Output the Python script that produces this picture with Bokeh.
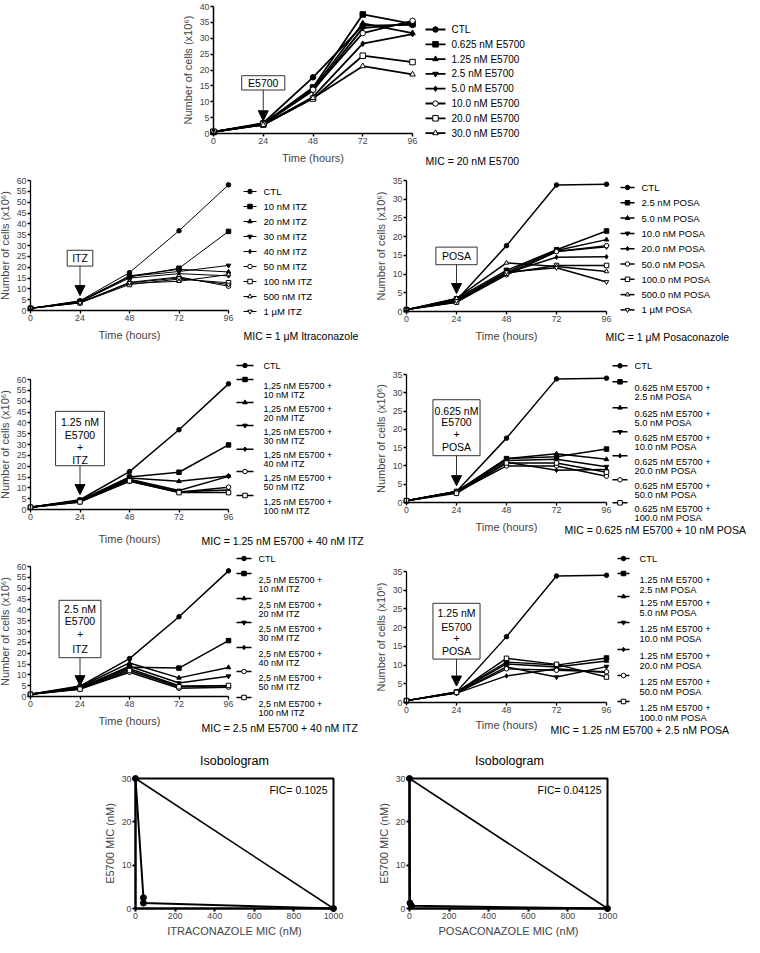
from bokeh.plotting import figure
from bokeh.layouts import column, row
from bokeh.models import Range1d, FixedTicker, Arrow, NormalHead
from bokeh.core.properties import value
from bokeh.embed import file_html
from bokeh.resources import INLINE

FONT = "Liberation Sans"

# ---------------- data ----------------
time_h = [0, 24, 48, 72, 96]

# Panel A: E5700 alone
a_labels = ["CTL", "0.625 nM E5700", "1.25 nM E5700", "2.5 nM E5700", "5.0 nM E5700",
            "10.0 nM E5700", "20.0 nM E5700", "30.0 nM E5700"]
a_ctl = [0.5, 3.3, 17.7, 34.0, 34.2]
a_0625 = [0.5, 3.1, 14.5, 37.5, 34.5]
a_125 = [0.5, 3.0, 14.0, 34.7, 31.6]
a_25 = [0.5, 3.0, 13.5, 33.2, 34.6]
a_5 = [0.5, 2.8, 11.5, 28.3, 31.3]
a_10 = [0.5, 3.0, 13.8, 31.6, 35.5]
a_20 = [0.5, 2.8, 11.0, 24.5, 22.5]
a_30 = [0.5, 2.7, 11.2, 21.2, 18.6]

# Panel B: ITZ alone
b_labels = ["CTL", "10 nM ITZ", "20 nM ITZ", "30 nM ITZ", "40 nM ITZ", "50 nM ITZ",
            "100 nM ITZ", "500 nM ITZ", "1 \u00b5M ITZ"]
b_ctl = [1.0, 4.5, 17.5, 36.8, 58.0]
b_10 = [1.0, 4.2, 15.5, 19.5, 36.5]
b_20 = [1.0, 4.3, 16.0, 19.0, 17.8]
b_30 = [1.0, 4.0, 15.8, 18.0, 20.8]
b_40 = [1.0, 4.0, 15.0, 17.0, 16.0]
b_50 = [1.0, 3.6, 13.0, 15.5, 11.2]
b_100 = [1.0, 3.5, 12.0, 14.5, 12.8]
b_500 = [1.0, 3.8, 12.5, 13.5, 16.6]
b_1000 = [1.0, 3.5, 12.8, 15.0, 12.0]

# Panel C: POSA alone
c_labels = ["CTL", "2.5 nM POSA", "5.0 nM POSA", "10.0 nM POSA", "20.0 nM POSA",
            "50.0 nM POSA", "100.0 nM POSA", "500.0 nM POSA", "1 \u00b5M POSA"]
c_ctl = [0.5, 3.0, 17.6, 33.8, 34.0]
c_25 = [0.5, 3.4, 11.0, 16.5, 21.5]
c_5 = [0.5, 3.0, 10.5, 16.3, 19.2]
c_10 = [0.5, 3.0, 10.0, 16.0, 17.3]
c_20 = [0.5, 2.8, 10.3, 14.5, 14.6]
c_50 = [0.5, 2.5, 9.8, 16.0, 17.6]
c_100 = [0.5, 2.5, 10.2, 12.3, 12.3]
c_500 = [0.5, 3.5, 13.0, 12.0, 10.7]
c_1000 = [0.5, 2.8, 10.5, 11.7, 7.9]

# Panel D: 1.25 nM E5700 + ITZ
d_labels = ["CTL", "1,25 nM E5700 +\n10 nM ITZ", "1,25 nM E5700 +\n20 nM ITZ",
            "1,25 nM E5700 +\n30 nM ITZ", "1,25 nM E5700 +\n40 nM ITZ",
            "1,25 nM E5700 +\n50 nM ITZ", "1,25 nM E5700 +\n100 nM ITZ"]
d_ctl = [1.0, 4.5, 17.5, 36.8, 58.0]
d_10 = [1.0, 4.2, 15.0, 17.2, 29.8]
d_20 = [1.0, 4.0, 14.5, 13.0, 15.5]
d_30 = [1.0, 4.0, 14.0, 8.8, 15.3]
d_40 = [1.0, 3.8, 13.5, 8.2, 9.0]
d_50 = [1.0, 3.5, 13.0, 8.0, 10.3]
d_100 = [1.0, 3.5, 13.2, 7.8, 7.8]

# Panel E: 0.625 nM E5700 + POSA
e_labels = ["CTL", "0.625 nM E5700 +\n2.5 nM POSA", "0.625 nM E5700 +\n5.0 nM POSA",
            "0.625 nM E5700 +\n10.0 nM POSA", "0.625 nM E5700 +\n20.0 nM POSA",
            "0.625 nM E5700 +\n50.0 nM POSA", "0.625 nM E5700 +\n100.0 nM POSA"]
e_ctl = [0.5, 3.0, 17.6, 33.8, 34.0]
e_25 = [0.5, 3.0, 12.0, 12.5, 14.6]
e_5 = [0.5, 3.0, 12.0, 13.3, 11.8]
e_10 = [0.5, 3.0, 11.5, 11.8, 9.8]
e_20 = [0.5, 2.8, 11.0, 8.8, 9.0]
e_50 = [0.5, 2.8, 10.0, 10.0, 7.2]
e_100 = [0.5, 2.5, 10.8, 10.8, 8.3]

# Panel F: 2.5 nM E5700 + ITZ
f_labels = ["CTL", "2,5 nM E5700 +\n10 nM ITZ", "2,5 nM E5700 +\n20 nM ITZ",
            "2,5 nM E5700 +\n30 nM ITZ", "2,5 nM E5700 +\n40 nM ITZ",
            "2,5 nM E5700 +\n50 nM ITZ", "2,5 nM E5700 +\n100 nM ITZ"]
f_ctl = [1.0, 4.8, 17.5, 36.8, 58.0]
f_10 = [1.0, 4.2, 13.5, 13.1, 25.8]
f_20 = [1.0, 4.5, 15.5, 8.6, 13.4]
f_30 = [1.0, 4.0, 14.0, 6.2, 9.4]
f_40 = [1.0, 3.8, 12.8, 5.0, 4.8]
f_50 = [1.0, 3.5, 11.2, 3.8, 4.3]
f_100 = [1.0, 3.4, 12.0, 4.5, 5.1]

# Panel G: 1.25 nM E5700 + POSA
g_labels = ["CTL", "1.25 nM E5700 +\n2.5 nM POSA", "1.25 nM E5700 +\n5.0 nM POSA",
            "1.25 nM E5700 +\n10.0 nM POSA", "1.25 nM E5700 +\n20.0 nM POSA",
            "1.25 nM E5700 +\n50.0 nM POSA", "1.25 nM E5700 +\n100.0 nM POSA"]
g_ctl = [0.5, 2.8, 17.6, 33.8, 34.0]
g_25 = [0.5, 2.8, 10.8, 10.0, 11.9]
g_5 = [0.5, 2.7, 10.3, 9.5, 11.1]
g_10 = [0.5, 2.6, 9.5, 6.8, 9.6]
g_20 = [0.5, 2.5, 7.1, 9.0, 8.0]
g_50 = [0.5, 2.6, 9.0, 8.6, 8.2]
g_100 = [0.5, 2.7, 11.8, 10.2, 6.8]

# Isobolograms
itz_mic_x = [0, 40, 40, 1000]
itz_e5700_y = [30, 2.5, 1.25, 0]
posa_mic_x = [0, 2.5, 10, 1000]
posa_e5700_y = [30, 1.25, 0.625, 0]
additive_x = [0, 1000]
additive_y = [30, 0]

MARKERS = [("circle", "black"), ("square", "black"), ("triangle", "black"),
           ("inverted_triangle", "black"), ("diamond", "black"), ("circle", "white"),
           ("square", "white"), ("triangle", "white"), ("inverted_triangle", "white")]

YLAB = "Number of cells (x10\u2076)"


def make_panel(W, H, x0, x1, xmax, y0, y1, ymax, xticks, yticks, xlabel, ylabel,
               xstand=5, axw=1.3):
    sx = (x1 - x0) / xmax
    sy = (y0 - y1) / ymax
    p = figure(width=W, height=H, x_range=Range1d(-x0 / sx, (W - x0) / sx),
               y_range=Range1d(-(H - y0) / sy, y0 / sy), output_backend="svg",
               toolbar_location=None, min_border=0)
    p.outline_line_color = None
    p.grid.visible = False
    p.xaxis.fixed_location = 0
    p.yaxis.fixed_location = 0
    for ax, ticks, lab, mx in ((p.xaxis[0], xticks, xlabel, xmax),
                               (p.yaxis[0], yticks, ylabel, ymax)):
        ax.ticker = FixedTicker(ticks=ticks)
        ax.bounds = (0, mx)
        ax.axis_label = lab
        ax.axis_label_text_font = FONT
        ax.axis_label_text_font_size = "11px"
        ax.axis_label_text_font_style = "normal"
        ax.axis_label_standoff = 3
        ax.major_label_text_font = FONT
        ax.major_label_text_font_size = "8.8px"
        ax.major_label_standoff = 1
        ax.major_tick_out = 3
        ax.major_tick_in = 0
        ax.minor_tick_out = 0
        ax.minor_tick_in = 0
        ax.axis_line_width = axw
        ax.major_tick_line_width = axw
    p.xaxis[0].axis_label_standoff = xstand

    def X(px):
        return (px - x0) / sx

    def Y(py):
        return (y0 - py) / sy
    return p, X, Y


def txt(p, xs, ys, texts, size, align="left"):
    p.text(x=xs, y=ys, text=texts, text_font=value(FONT), text_font_size=value(size),
           text_align=align, text_baseline="middle", text_color="black")


def series_plot(p, series, lw, ms):
    for vals in series:
        p.line(time_h, vals, line_color="black", line_width=lw)
    for vals, (m, f) in zip(series, MARKERS):
        p.scatter(time_h, vals, marker=m, size=ms, fill_color=f, line_color="black",
                  line_width=1)


def legend(p, X, Y, labels, xa, xb, xt, ys, fs, lw, ms, d1=6, d2=15):
    tx, ty, tt = [], [], []
    for lab, (m, f), yy in zip(labels, MARKERS, ys):
        p.segment(x0=[X(xa)], y0=[Y(yy)], x1=[X(xb)], y1=[Y(yy)], line_color="black",
                  line_width=lw)
        p.scatter(x=[X((xa + xb) / 2)], y=[Y(yy)], marker=m, size=ms, fill_color=f,
                  line_color="black", line_width=1)
        parts = lab.split("\n")
        offs = [0] if len(parts) == 1 else [d1, d2]
        for part, o in zip(parts, offs):
            tx.append(X(xt))
            ty.append(Y(yy + o))
            tt.append(part)
    txt(p, tx, ty, tt, fs)


def callout(p, lines, half_w, bottom, top, line_ys, tip):
    xc = time_h[1]
    p.quad(left=[xc - half_w], right=[xc + half_w], bottom=[bottom], top=[top],
           fill_color="white", line_color="#333333", line_width=1)
    txt(p, [xc] * len(lines), line_ys, lines, "10.5px", align="center")
    p.add_layout(Arrow(x_start=xc, y_start=bottom, x_end=xc, y_end=tip, line_width=1,
                       line_color="#333333",
                       end=NormalHead(size=10, fill_color="black", line_color="black")))


XT = [0, 24, 48, 72, 96]
Y40 = list(range(0, 41, 5))
Y60 = list(range(0, 61, 5))
Y35 = list(range(0, 36, 5))
TL = "Time (hours)"

# ---- Panel A ----
pA, X, Y = make_panel(752, 167, 213, 412, 96, 133, 6, 40, XT, Y40, TL, YLAB, axw=1.5)
series_plot(pA, [a_ctl, a_0625, a_125, a_25, a_5, a_10, a_20, a_30], 1.8, 5.5)
legend(pA, X, Y, a_labels, 425, 445, 451, [29 + i * 14.8 for i in range(8)], "10px", 1.8, 5.5)
txt(pA, [X(425)], [Y(160)], ["MIC = 20 nM E5700"], "10.5px")
callout(pA, ["E5700"], 10.4, 13.7, 18.2, [15.95], 4.0)

# ---- Panel B ----
pB, X, Y = make_panel(370, 185, 30, 228, 96, 143, 13, 60, XT, Y60, TL, YLAB)
series_plot(pB, [b_ctl, b_10, b_20, b_30, b_40, b_50, b_100, b_500, b_1000], 1.0, 4.5)
legend(pB, X, Y, b_labels, 243, 256, 263, [24 + i * 15 for i in range(9)], "9.5px", 1.0, 4.5)
txt(pB, [X(243)], [Y(168)], ["MIC = 1 \u03bcM Itraconazole"], "10.5px")
callout(pB, ["ITZ"], 6.2, 20.5, 27.8, [24.15], 6.9)

# ---- Panel C ----
pC, X, Y = make_panel(382, 185, 36, 236, 96, 144, 13, 35, XT, Y35, TL, YLAB)
series_plot(pC, [c_ctl, c_25, c_5, c_10, c_20, c_50, c_100, c_500, c_1000], 1.5, 4.5)
legend(pC, X, Y, c_labels, 250, 264, 271, [20 + i * 15.3 for i in range(9)], "9.5px", 1.5, 4.5)
txt(pC, [X(235)], [Y(169)], ["MIC = 1 \u03bcM Posaconazole"], "10.5px")
callout(pC, ["POSA"], 9.9, 12.5, 17.2, [14.85], 4.8)

# ---- Panel D ----
pD, X, Y = make_panel(370, 195, 30, 228, 96, 157, 27, 60, XT, Y60, TL, YLAB, xstand=10)
series_plot(pD, [d_ctl, d_10, d_20, d_30, d_40, d_50, d_100], 1.5, 4.5)
legend(pD, X, Y, d_labels, 236, 253, 263, [13, 27, 50, 73, 96.7, 119, 143], "9px", 1.5, 4.5)
txt(pD, [X(201)], [Y(188)], ["MIC = 1.25 nM E5700 + 40 nM ITZ"], "10.5px")
callout(pD, ["1.25 nM", "E5700", "+", "ITZ"], 11.85, 20.2, 45.3, [40.3, 34.5, 28.9, 22.8], 6.9)

# ---- Panel E ----
pE, X, Y = make_panel(382, 195, 36, 236, 96, 150, 22, 35, XT, Y35, TL, YLAB)
series_plot(pE, [e_ctl, e_25, e_5, e_10, e_20, e_50, e_100], 1.5, 4.5)
legend(pE, X, Y, e_labels, 242, 257, 264, [13.3, 29.3, 55.3, 79.3, 103.3, 127.3, 150.3],
       "9.3px", 1.5, 4.5, d1=6, d2=15)
txt(pE, [X(194)], [Y(177)], ["MIC = 0.625 nM E5700 + 10 nM POSA"], "10.5px")
callout(pE, ["0.625 nM", "E5700", "+", "POSA"], 11.3, 12.8, 28.1, [25.0, 22.0, 18.8, 15.2], 4.6)

# ---- Panel F ----
pF, X, Y = make_panel(370, 187, 30, 228, 96, 149, 19, 60, XT, Y60, TL, YLAB)
series_plot(pF, [f_ctl, f_10, f_20, f_30, f_40, f_50, f_100], 1.5, 4.5)
legend(pF, X, Y, f_labels, 236, 251, 258, [11, 26, 51, 75, 100, 124, 150], "9px", 1.5, 4.5)
txt(pF, [X(201)], [Y(180)], ["MIC = 2.5 nM E5700 + 40 nM ITZ"], "10.5px")
callout(pF, ["2.5 nM", "E5700", "+", "ITZ"], 10.15, 17.9, 44.4, [40.2, 34.8, 29.0, 22.1], 5.0)

# ---- Panel G ----
pG, X, Y = make_panel(382, 187, 36, 236, 96, 155, 24, 35, XT, Y35, TL, YLAB, xstand=3)
series_plot(pG, [g_ctl, g_25, g_5, g_10, g_20, g_50, g_100], 1.4, 4.5)
legend(pG, X, Y, g_labels, 247, 259, 269, [11, 26, 49, 75, 102, 128, 154],
       "9.3px", 1.4, 4.5, d1=6.5, d2=16)
txt(pG, [X(180)], [Y(182)], ["MIC = 1.25 nM E5700 + 2.5 nM POSA"], "10.5px")
callout(pG, ["1.25 nM", "E5700", "+", "POSA"], 11.3, 11.6, 26.5, [23.9, 20.2, 17.3, 13.7], 4.4)


# ---- Isobolograms ----
def isobologram(W, x0, x1, xs, ys, xlabel, fic, title_x, fic_x):
    p, X, Y = make_panel(W, 203, x0, x1, 1000, 174, 44, 30,
                         list(range(0, 1001, 200)), [0, 10, 20, 30], xlabel,
                         "E5700 MIC (nM)", xstand=3, axw=2)
    p.quad(left=[0], right=[1000], bottom=[0], top=[30], fill_color=None,
           line_color="black", line_width=2)
    p.line(additive_x, additive_y, line_color="black", line_width=1.5)
    p.line(xs, ys, line_color="black", line_width=2)
    p.scatter(xs, ys, marker="circle", size=6, fill_color="black", line_color="black")
    txt(p, [X(title_x)], [Y(26)], ["Isobologram"], "12.5px", align="center")
    txt(p, [X(fic_x)], [Y(55)], [fic], "10.5px", align="right")
    return p


pH = isobologram(370, 135, 333, itz_mic_x, itz_e5700_y, "ITRACONAZOLE MIC (nM)",
                 "FIC= 0.1025", 234, 327)
pI = isobologram(382, 39, 237, posa_mic_x, posa_e5700_y, "POSACONAZOLE MIC (nM)",
                 "FIC= 0.04125", 139, 231)

layout = column(pA, row(pB, pC), row(pD, pE), row(pF, pG), row(pH, pI))
open("out.html", "w").write(file_html(layout, INLINE))
